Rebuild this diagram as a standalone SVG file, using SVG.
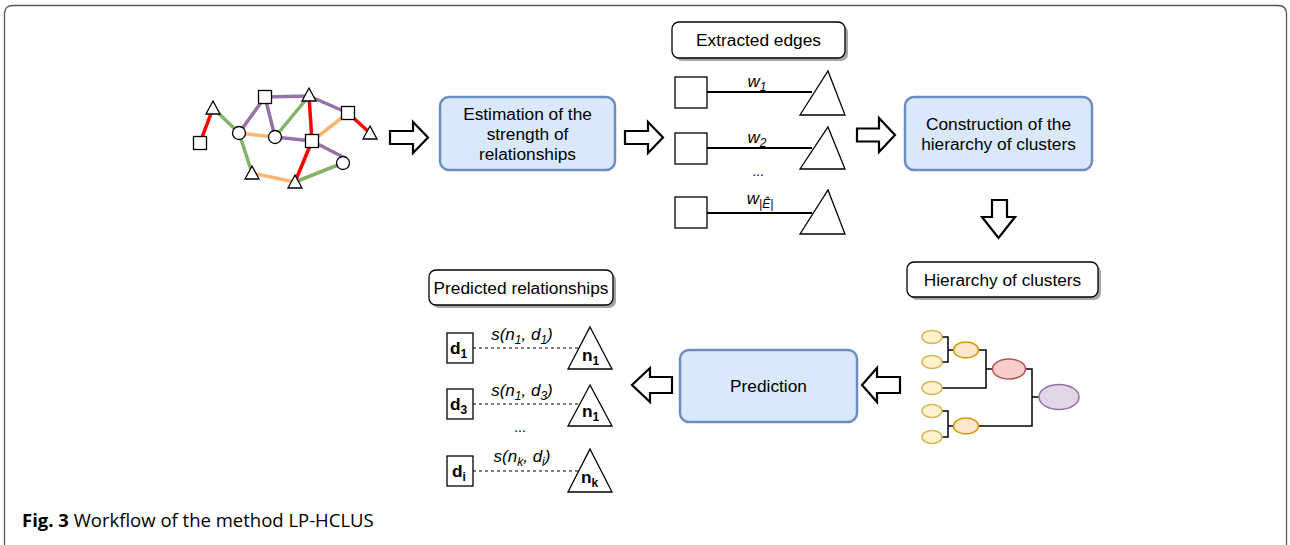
<svg xmlns="http://www.w3.org/2000/svg" width="1290" height="545" viewBox="0 0 1290 545">
  <style>
    text { font-family: "Liberation Sans", Arial, sans-serif; fill: #000; }
    .t16 { font-size: 17.3px; }
    .lbl { font-size: 17px; font-style: italic; }
    .sub { font-size: 12px; }
    .bold { font-weight: bold; }
    .step { fill: #dae8fc; stroke: #6c8ebf; stroke-width: 2.5; }
    .tag { fill: #fff; stroke: #000; stroke-width: 1.3; }
    .shadow { fill: #a6a6a6; }
    .blk { fill: #fff; stroke: #000; stroke-width: 2.2; stroke-linejoin: miter; }
    .node { fill: #fff; stroke: #000; stroke-width: 1.3; }
    .edge { stroke: #000; stroke-width: 2; fill: none; }
    .dash { stroke: #000; stroke-width: 1.2; stroke-dasharray: 3 3; fill: none; }
    .g { stroke-width: 3.5; fill: none; }
    .red { stroke: #ff0000; }
    .grn { stroke: #82b366; }
    .pur { stroke: #9673a6; }
    .org { stroke: #ffb570; }
    .tree { stroke: #000; stroke-width: 1.5; fill: none; }
    .leaf { fill: #fff2cc; stroke: #d6b656; stroke-width: 1.5; }
    .mid { fill: #ffe6cc; stroke: #d79b00; stroke-width: 1.5; }
    .upper { fill: #f8cecc; stroke: #b85450; stroke-width: 1.5; }
    .root { fill: #e1d5e7; stroke: #9673a6; stroke-width: 1.5; }
  </style>

  <!-- frame -->
  <path d="M4.5,548 V14 Q4.5,5.5 13,5.5 H1278 Q1286.5,5.5 1286.5,14 V548" fill="none" stroke="#555" stroke-width="1.3"/>

  <!-- input network -->
  <g id="network">
    <g class="g">
      <line class="red" x1="200" y1="143" x2="213" y2="108"/>
      <line class="grn" x1="213" y1="108" x2="239" y2="133"/>
      <line class="pur" x1="239" y1="133" x2="265" y2="97"/>
      <line class="org" x1="239" y1="133" x2="275" y2="137"/>
      <line class="grn" x1="239" y1="133" x2="252" y2="173"/>
      <line class="pur" x1="265" y1="97" x2="309" y2="96"/>
      <line class="pur" x1="265" y1="97" x2="275" y2="137"/>
      <line class="grn" x1="275" y1="137" x2="309" y2="96"/>
      <line class="pur" x1="275" y1="137" x2="312" y2="141"/>
      <line class="pur" x1="312" y1="141" x2="343" y2="157"/>
      <line class="red" x1="309" y1="96" x2="312" y2="141"/>
      <line class="pur" x1="309" y1="96" x2="348" y2="113"/>
      <line class="org" x1="348" y1="113" x2="312" y2="141"/>
      <line class="red" x1="348" y1="113" x2="370" y2="133"/>
      <line class="red" x1="312" y1="141" x2="295" y2="182"/>
      <line class="org" x1="252" y1="173" x2="295" y2="182"/>
      <line class="grn" x1="295" y1="182" x2="343" y2="163"/>
    </g>
    <rect class="node" x="193.5" y="136.5" width="13" height="13"/>
    <rect class="node" x="258.5" y="90.5" width="13" height="13"/>
    <rect class="node" x="341.5" y="106.5" width="13" height="13"/>
    <rect class="node" x="305.5" y="134.5" width="13" height="13"/>
    <circle class="node" cx="239" cy="133" r="6.5"/>
    <circle class="node" cx="275" cy="137" r="6.5"/>
    <circle class="node" cx="343" cy="163" r="6.5"/>
    <path class="node" d="M213,101 L220,114 L206,114 Z"/>
    <path class="node" d="M309,88 L316,101 L302,101 Z"/>
    <path class="node" d="M370,126 L377,139 L363,139 Z"/>
    <path class="node" d="M252,166 L259,179 L245,179 Z"/>
    <path class="node" d="M295,175 L302,188 L288,188 Z"/>
  </g>

  <!-- block arrows between stages -->
  <g id="connectors">
    <path class="blk" d="M390,131 H413 V122 L428,137.5 L413,153 V144 H390 Z"/>
    <path class="blk" d="M625,131 H648 V122 L663,137.5 L648,153 V144 H625 Z"/>
    <path class="blk" d="M857,128.5 H879 V118 L895,135 L879,152 V141.5 H857 Z"/>
    <path class="blk" d="M992,200 H1007 V217 H1015 L998.5,238 L982,217 H992 Z"/>
    <path class="blk" d="M900,377 H877 V368 L862,385 L877,402 V393 H900 Z"/>
    <path class="blk" d="M672,377 H650 V368 L632,385 L650,402 V393 H672 Z"/>
  </g>

  <!-- stage: estimation -->
  <g id="estimation">
    <rect class="step" x="440" y="97" width="175" height="73" rx="9"/>
    <text class="t16" text-anchor="middle" x="527.5" y="120">Estimation of the</text>
    <text class="t16" text-anchor="middle" x="527.5" y="140">strength of</text>
    <text class="t16" text-anchor="middle" x="527.5" y="160">relationships</text>
  </g>

  <!-- extracted edges -->
  <g id="extracted-edges">
    <rect class="shadow" x="675" y="25" width="173" height="36" rx="7"/>
    <rect class="tag" x="672" y="22" width="173" height="36" rx="7"/>
    <text class="t16" text-anchor="middle" x="758.5" y="46">Extracted edges</text>

    <line class="edge" x1="707" y1="92" x2="812" y2="92"/>
    <rect class="node" x="675" y="77" width="32" height="31"/>
    <path class="node" d="M828,71 L845,115 L800,115 Z"/>
    <text class="lbl" text-anchor="middle" x="757" y="87">w<tspan class="sub" dy="4">1</tspan></text>

    <line class="edge" x1="707" y1="148" x2="812" y2="148"/>
    <rect class="node" x="675" y="133" width="32" height="31"/>
    <path class="node" d="M828,127 L845,169 L800,169 Z"/>
    <text class="lbl" text-anchor="middle" x="757" y="143">w<tspan class="sub" dy="4">2</tspan></text>
    <text class="t16" text-anchor="middle" x="758" y="176" style="font-size:14px">...</text>

    <line class="edge" x1="707" y1="213" x2="812" y2="213"/>
    <rect class="node" x="675" y="197" width="32" height="31"/>
    <path class="node" d="M828,190 L845,234 L800,234 Z"/>
    <text class="lbl" text-anchor="middle" x="760" y="204">w<tspan class="sub" dy="4">|Ê|</tspan></text>
  </g>

  <!-- stage: construction -->
  <g id="construction">
    <rect class="step" x="905" y="97" width="187" height="73" rx="9"/>
    <text class="t16" text-anchor="middle" x="998.5" y="130">Construction of the</text>
    <text class="t16" text-anchor="middle" x="998.5" y="150">hierarchy of clusters</text>
  </g>

  <!-- hierarchy of clusters -->
  <g id="hierarchy">
    <rect class="shadow" x="910" y="265" width="191" height="35" rx="7"/>
    <rect class="tag" x="907" y="262" width="191" height="35" rx="7"/>
    <text class="t16" text-anchor="middle" x="1002.5" y="285.5">Hierarchy of clusters</text>

    <path class="tree" d="M942,337 H948 V362 H942 M948,350 H954"/>
    <path class="tree" d="M978,350 H986 V388 H942 M986,369 H993"/>
    <path class="tree" d="M942,411 H948 V437 H942 M948,426 H954"/>
    <path class="tree" d="M978,426 H1032 V369 H1025 M1032,397 H1039"/>
    <ellipse class="leaf" cx="932" cy="337" rx="10" ry="6.5"/>
    <ellipse class="leaf" cx="932" cy="362" rx="10" ry="6.5"/>
    <ellipse class="leaf" cx="932" cy="388" rx="10" ry="6.5"/>
    <ellipse class="leaf" cx="932" cy="411" rx="10" ry="6.5"/>
    <ellipse class="leaf" cx="932" cy="437" rx="10" ry="6.5"/>
    <ellipse class="mid" cx="966" cy="350" rx="12.5" ry="8"/>
    <ellipse class="mid" cx="966" cy="426" rx="12.5" ry="8"/>
    <ellipse class="upper" cx="1009" cy="369" rx="16.5" ry="10"/>
    <ellipse class="root" cx="1059" cy="397" rx="20" ry="12.5"/>
  </g>

  <!-- stage: prediction -->
  <g id="prediction">
    <rect class="step" x="680" y="350" width="177" height="72" rx="9"/>
    <text class="t16" text-anchor="middle" x="768.5" y="392">Prediction</text>
  </g>

  <!-- predicted relationships -->
  <g id="predicted">
    <rect class="shadow" x="432" y="273" width="184" height="35" rx="7"/>
    <rect class="tag" x="429" y="270" width="184" height="35" rx="7"/>
    <text class="t16" text-anchor="middle" x="521" y="293.5">Predicted relationships</text>

    <line class="dash" x1="473" y1="348" x2="580" y2="348"/>
    <rect class="node" x="447" y="333" width="26" height="30"/>
    <text class="t16 bold" x="450" y="354">d<tspan class="sub" dy="4">1</tspan></text>
    <path class="node" d="M590,327 L612,369 L568,369 Z"/>
    <text class="t16 bold" x="582" y="361">n<tspan class="sub" dy="4">1</tspan></text>
    <text class="lbl" text-anchor="middle" x="522" y="340">s(n<tspan class="sub" dy="4">1</tspan><tspan dy="-4">, d</tspan><tspan class="sub" dy="4">1</tspan><tspan dy="-4">)</tspan></text>

    <line class="dash" x1="473" y1="404" x2="580" y2="404"/>
    <rect class="node" x="447" y="389" width="26" height="30"/>
    <text class="t16 bold" x="450" y="410">d<tspan class="sub" dy="4">3</tspan></text>
    <path class="node" d="M590,385 L612,426 L568,426 Z"/>
    <text class="t16 bold" x="582" y="417">n<tspan class="sub" dy="4">1</tspan></text>
    <text class="lbl" text-anchor="middle" x="522" y="396">s(n<tspan class="sub" dy="4">1</tspan><tspan dy="-4">, d</tspan><tspan class="sub" dy="4">3</tspan><tspan dy="-4">)</tspan></text>

    <text class="t16" text-anchor="middle" x="520" y="432" style="font-size:14px">...</text>

    <line class="dash" x1="473" y1="471" x2="580" y2="471"/>
    <rect class="node" x="447" y="456" width="26" height="30"/>
    <text class="t16 bold" x="452" y="477">d<tspan class="sub" dy="4">i</tspan></text>
    <path class="node" d="M590,449 L612,492 L568,492 Z"/>
    <text class="t16 bold" x="581" y="483">n<tspan class="sub" dy="4">k</tspan></text>
    <text class="lbl" text-anchor="middle" x="522" y="462">s(n<tspan class="sub" dy="4">k</tspan><tspan dy="-4">, d</tspan><tspan class="sub" dy="4">i</tspan><tspan dy="-4">)</tspan></text>
  </g>

  <!-- caption -->
  <text x="22" y="527" style="font-family:'Open Sans','Noto Sans',sans-serif;font-size:18.5px"><tspan font-weight="bold">Fig. 3</tspan> Workflow of the method LP-HCLUS</text>
</svg>
